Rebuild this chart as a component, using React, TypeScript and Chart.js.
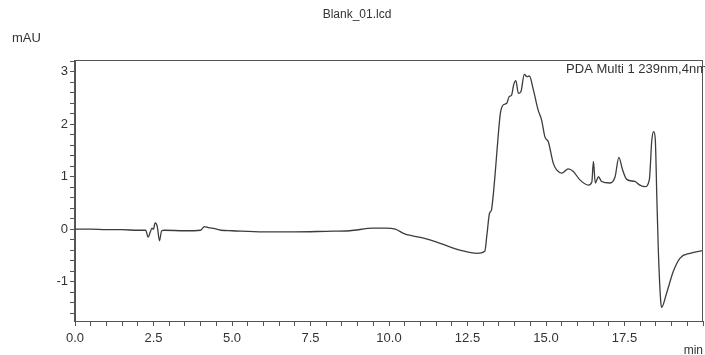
import React, { useEffect, useRef } from "react";
import { Chart, registerables } from "chart.js";

Chart.register(...registerables);

// Chromatogram trace: retention time (min) and detector response (mAU)
const timeMin = [
  0.0, 0.5, 1.0, 1.5, 2.0, 2.25, 2.33, 2.4, 2.45, 2.5, 2.55, 2.62, 2.69, 2.76, 2.85,
  3.5, 4.0, 4.12, 4.25, 4.45, 4.65, 5.0, 6.0, 7.0, 8.0, 8.75, 9.5, 9.9, 10.2, 10.5,
  11.1, 11.5, 12.0, 12.4, 12.8, 13.05, 13.12, 13.2, 13.26, 13.32, 13.4, 13.48, 13.55,
  13.64, 13.75, 13.83, 13.9, 13.97, 14.04, 14.12, 14.2, 14.31, 14.39, 14.47, 14.6,
  14.75, 14.86, 14.97, 15.07, 15.23, 15.34, 15.5, 15.71, 15.87, 16.08, 16.35, 16.46,
  16.51, 16.57, 16.67, 16.77, 17.04, 17.2, 17.32, 17.44, 17.57, 17.83, 17.99, 18.15,
  18.29, 18.37, 18.43, 18.48, 18.53, 18.58, 18.65, 18.68, 18.84, 19.05, 19.27, 19.59,
  20.0,
];
const absorbance = [
  0.0, 0.0, -0.01, -0.01, -0.02, -0.02, -0.15, -0.05, 0.02, 0.0, 0.12, 0.05, -0.22,
  -0.03, -0.02, -0.03, -0.02, 0.05, 0.03, 0.01, -0.02, -0.03, -0.05, -0.05, -0.04,
  -0.03, 0.02, 0.02, 0.0, -0.09, -0.17, -0.24, -0.35, -0.42, -0.46, -0.42, -0.1, 0.3,
  0.36, 0.65, 1.2, 1.8, 2.22, 2.37, 2.4, 2.53, 2.55, 2.75, 2.83, 2.59, 2.62, 2.95,
  2.91, 2.92, 2.65, 2.27, 2.08, 1.75, 1.67, 1.26, 1.13, 1.07, 1.15, 1.1, 0.94, 0.84,
  0.9, 1.29, 0.88, 1.0, 0.91, 0.88, 1.0, 1.37, 1.13, 0.95, 0.91, 0.84, 0.81, 0.94,
  1.7, 1.86, 1.72, 0.6, -0.45, -1.35, -1.49, -1.22, -0.81, -0.55, -0.46, -0.41,
];

// Labelled axis positions
const xTickLabels = [0, 2.5, 5.0, 7.5, 10.0, 12.5, 15.0, 17.5];
const yTickLabels = [-1, 0, 1, 2, 3];

const titleText = "Blank_01.lcd";
const yUnit = "mAU";
const xUnit = "min";
const channelText = "PDA Multi 1 239nm,4nm";

const FONT = '"Liberation Sans", Arial, sans-serif';
const INK = "#333";

const isListed = (list: number[], v: number) =>
  list.some((t) => Math.abs(t - v) < 1e-6);

const annotations = {
  id: "annotations",
  afterDraw(chart: any) {
    const { ctx, chartArea } = chart;
    const { left, top, right, bottom } = chartArea;
    ctx.save();
    // frame round the plot
    ctx.strokeStyle = "#555";
    ctx.lineWidth = 1;
    ctx.strokeRect(left - 0.5, top + 0.5, right - left, bottom - top);

    ctx.fillStyle = INK;
    ctx.textBaseline = "alphabetic";
    ctx.font = `12px ${FONT}`;
    ctx.textAlign = "center";
    ctx.fillText(titleText, 357, 18);

    ctx.font = `13px ${FONT}`;
    ctx.textAlign = "left";
    ctx.fillText(yUnit, 12, 42);

    ctx.font = `12px ${FONT}`;
    ctx.textAlign = "right";
    ctx.fillText(xUnit, 703, 354);

    ctx.font = `13px ${FONT}`;
    ctx.textAlign = "right";
    ctx.fillText(channelText, 707, 73);
    ctx.restore();
  },
};

export default function App() {
  const canvasRef = useRef<HTMLCanvasElement | null>(null);

  useEffect(() => {
    if (!canvasRef.current) return;
    const points = timeMin.map((t, i) => ({ x: t, y: absorbance[i] }));
    const chart = new Chart(canvasRef.current, {
      type: "line",
      data: {
        datasets: [
          {
            data: points,
            borderColor: "#3c3c3c",
            borderWidth: 1.3,
            pointRadius: 0,
            cubicInterpolationMode: "monotone",
            fill: false,
          },
        ],
      },
      options: {
        responsive: false,
        animation: false,
        events: [],
        layout: { padding: { top: 60, right: 2, left: 0, bottom: 0 } },
        plugins: {
          legend: { display: false },
          title: { display: false },
          tooltip: { enabled: false },
        },
        scales: {
          x: {
            type: "linear",
            min: 0,
            max: 20,
            afterFit: (scale: any) => {
              scale.height = 34;
              scale.paddingLeft = 0;
              scale.paddingRight = 0;
            },
            border: { display: true, color: "#555", width: 1 },
            grid: {
              drawOnChartArea: false,
              drawTicks: true,
              tickLength: 5,
              tickColor: "#555",
            },
            ticks: {
              stepSize: 0.5,
              autoSkip: false,
              maxRotation: 0,
              padding: 5,
              color: INK,
              font: { family: FONT, size: 13 },
              callback: (v: any) =>
                isListed(xTickLabels, Number(v)) ? Number(v).toFixed(1) : "",
            },
          },
          y: {
            min: -1.75,
            max: 3.225,
            afterFit: (scale: any) => {
              scale.width = 75;
            },
            border: { display: true, color: "#555", width: 1 },
            grid: {
              drawOnChartArea: false,
              drawTicks: true,
              tickLength: 5,
              tickColor: "#555",
            },
            ticks: {
              stepSize: 0.2,
              includeBounds: false,
              autoSkip: false,
              padding: 2,
              color: INK,
              font: { family: FONT, size: 13 },
              callback: (v: any) => {
                const n = Number(v);
                return isListed(yTickLabels, n) ? String(Math.round(n)) : "";
              },
            },
          },
        },
      },
      plugins: [annotations],
    });
    return () => chart.destroy();
  }, []);

  return (
    <div
      style={{
        position: "fixed",
        left: 0,
        top: 0,
        width: 705,
        height: 355,
        background: "#fff",
      }}
    >
      <canvas ref={canvasRef} width={705} height={355} />
    </div>
  );
}
